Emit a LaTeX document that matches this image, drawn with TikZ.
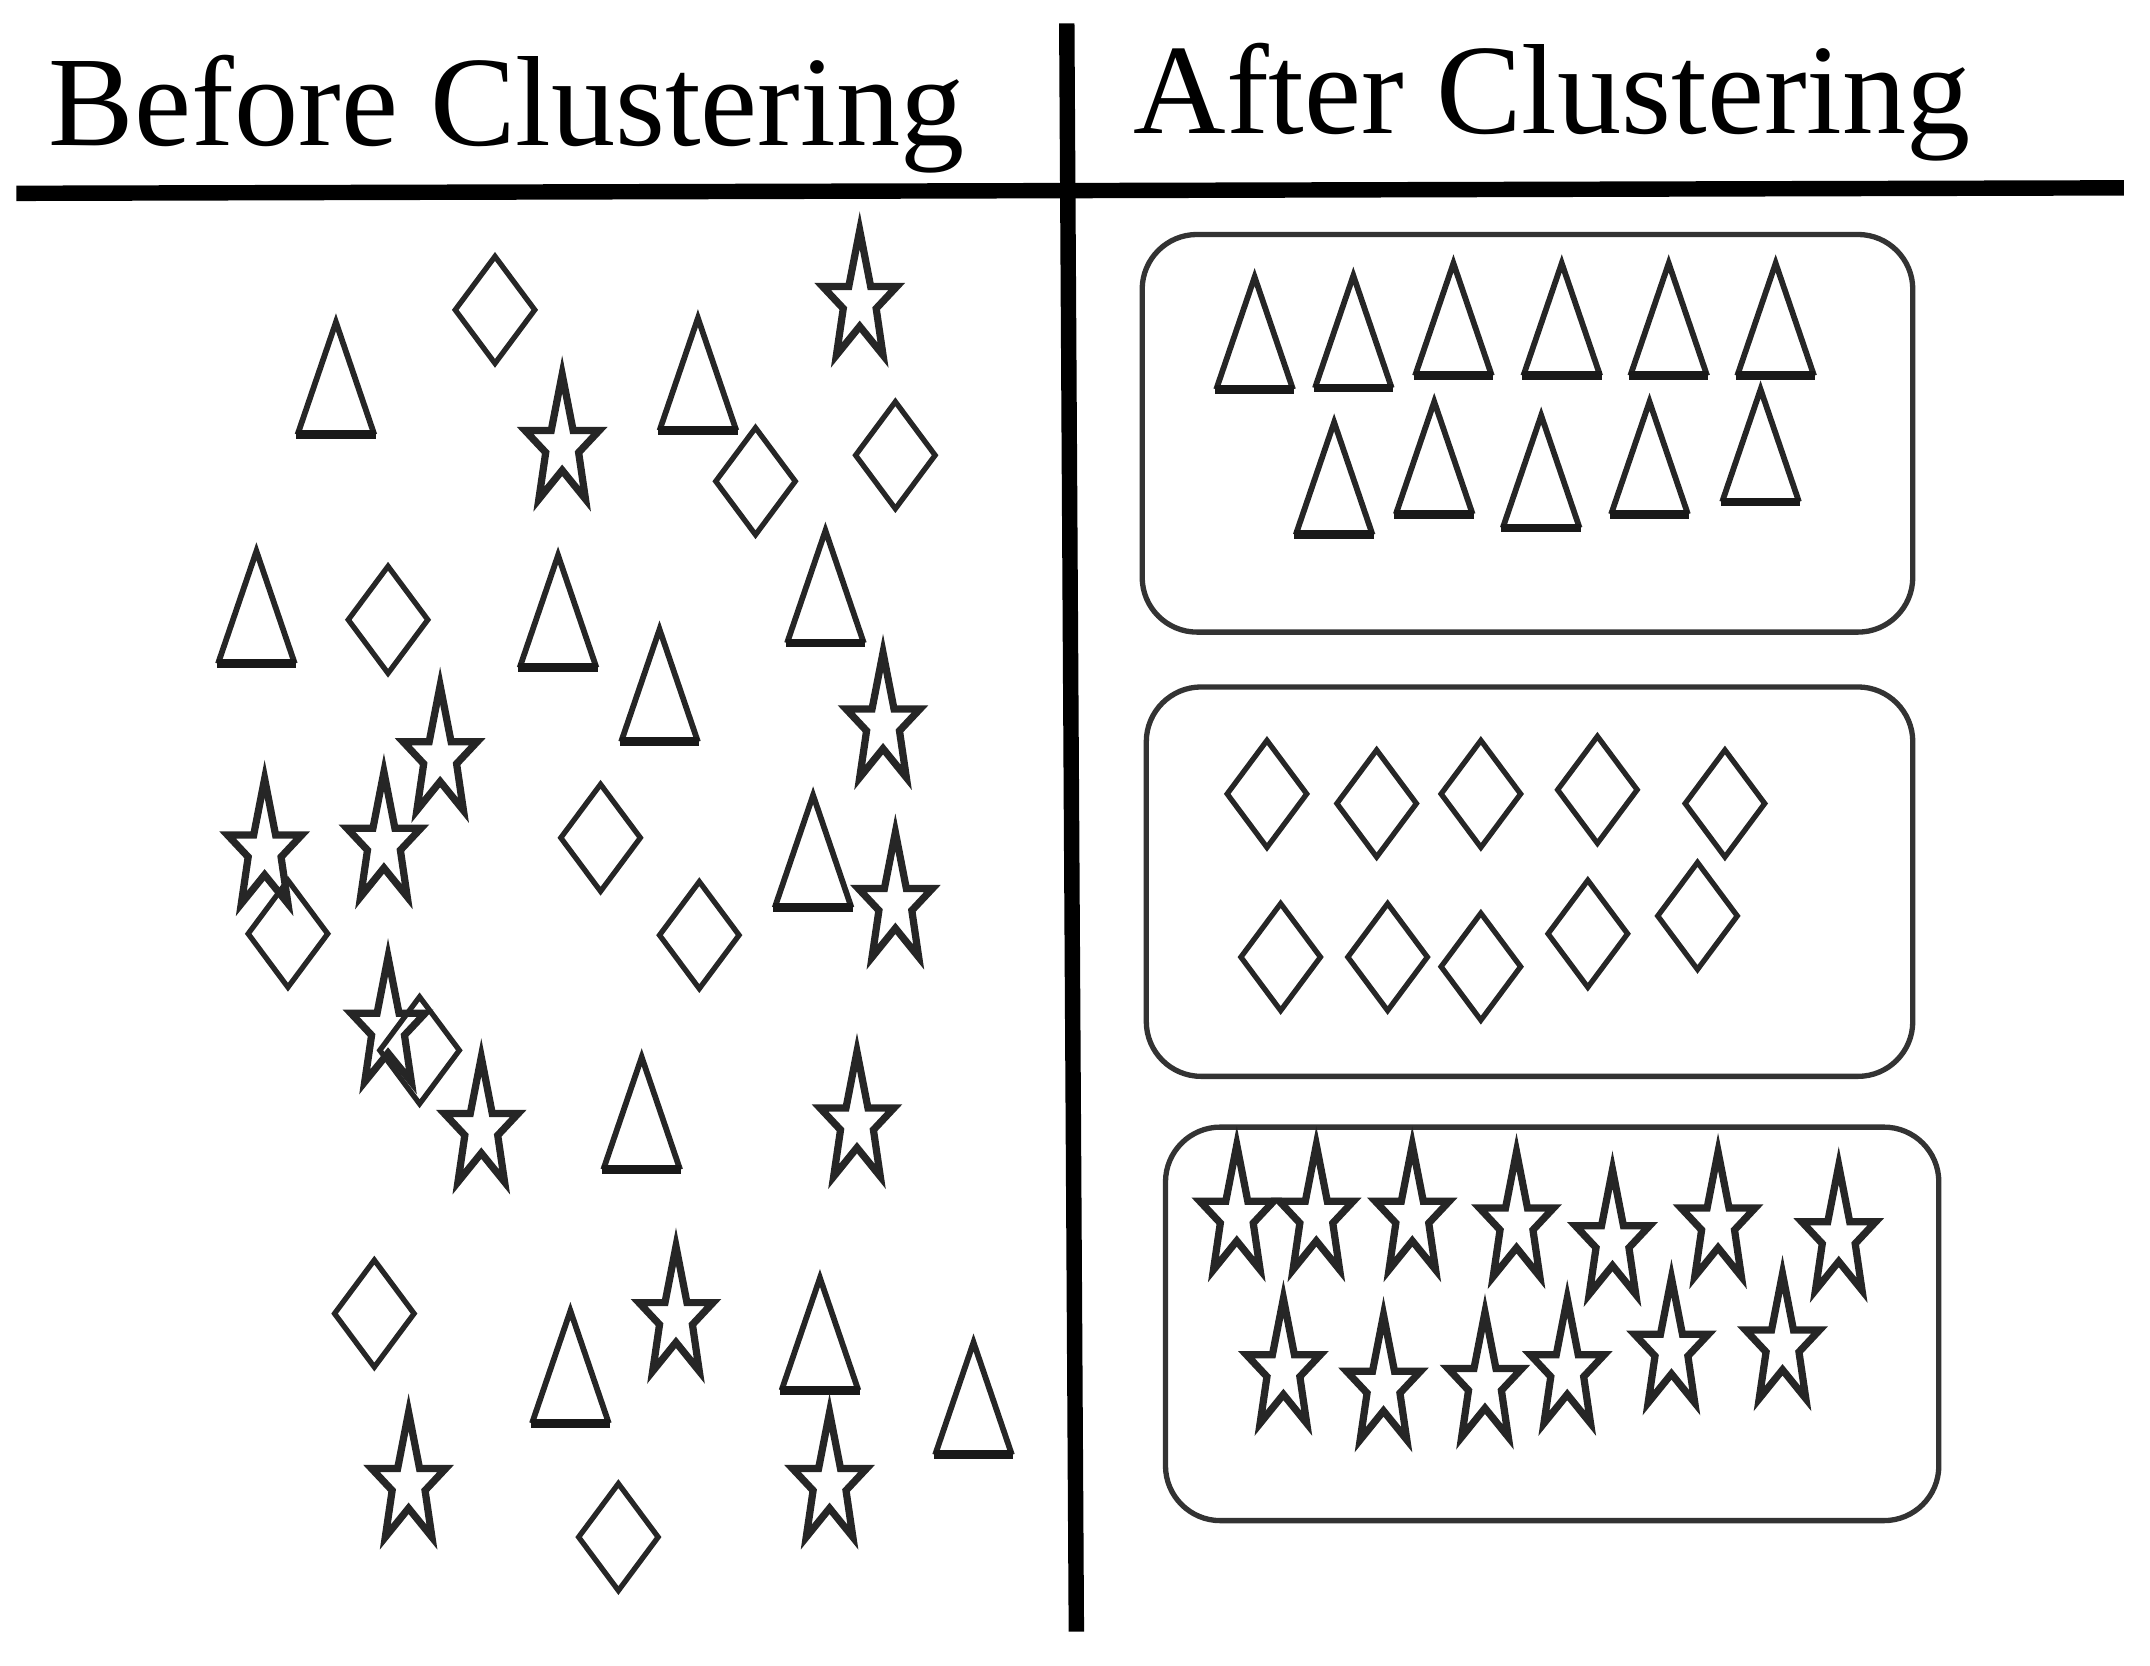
\documentclass[tikz,border=0pt]{standalone}
\usepackage{fontspec}
\setmainfont{Liberation Serif}
\tikzset{
  heading/.style={anchor=base west, inner sep=0pt, font=\fontsize{26.6}{31}\selectfont},
  divider/.style={line width=3.2pt, black},
  clusterbox/.style={draw=black!80, line width=1.1pt, rounded corners=4mm},
  shapeline/.style={draw=black!85, line width=1.2pt},
  tribase/.style={draw=black!90, line width=1.8pt},
  tri/.pic={\draw[shapeline] (-28,0) -- (0,-82) -- (28,0); \draw[tribase] (-29,0) -- (29,0);},
  dmd/.pic={\draw[shapeline, line width=1.1pt] (0,-39) -- (29,0) -- (0,39) -- (-29,0) -- cycle;},
  starr/.pic={\draw[shapeline, line width=1.5pt] (0,-41) -- (8,0) -- (27,0) -- (12,16) -- (17,50) -- (0,29) -- (-17,50) -- (-12,16) -- (-27,0) -- (-8,0) -- cycle;}
}
\begin{document}
\begin{tikzpicture}[x=0.01cm, y=-0.01cm]
  \useasboundingbox (0,0) rectangle (1568,1215);
  \node[heading] (before) at (35,106) {Before Clustering};
  \node[heading] (after) at (826,97) {After Clustering};
  \draw[divider] (12,141) -- (1549,137);
  \draw[divider] (778,17) -- (785,1190);
  \draw[clusterbox] (833,171) rectangle (1395,461);
  \draw[clusterbox] (836,501) rectangle (1395,785);
  \draw[clusterbox] (850,822) rectangle (1414,1109);
  \foreach \x/\y in {245/317,509/314,187/484,407/487,602/469,481/541,593/662,468/853,416/1038,598/1014,710/1061,
                     915/284,987/283,1060/274,1139/274,1217/274,1295/274,973/390,1046/375,1124/385,1203/375,1284/366}
    \pic at (\x,\y) {tri};
  \foreach \x/\y in {361/226,283/452,551/351,653/332,438/611,210/681,510/682,306/766,273/958,451/1121,
                     924/579,1004/586,1080/579,1165/576,1258/586,934/698,1012/698,1080/705,1158/681,1238/668}
    \pic at (\x,\y) {dmd};
  \foreach \x/\y in {627/209,410/314,321/541,193/609,280/604,644/517,653/648,283/739,351/812,625/808,493/950,298/1071,605/1071,
                     902/876,960/876,1030/876,1106/881,1176/894,1253/881,1341/891,936/988,1009/1000,1083/998,1143/988,1219/973,1300/970}
    \pic at (\x,\y) {starr};
\end{tikzpicture}
\end{document}
